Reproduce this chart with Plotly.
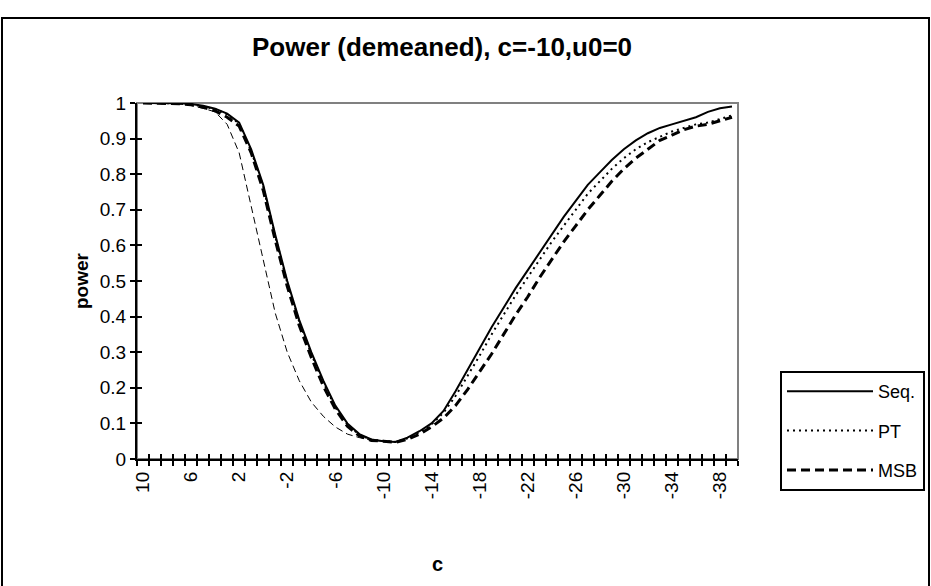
import plotly.graph_objects as go

# ---- data ----
c_vals = list(range(10, -40, -1))  # 10 .. -39 (50 categories)

seq = [1.0, 1.0, 1.0, 0.999, 0.997, 0.992, 0.984, 0.97, 0.945, 0.87,
       0.77, 0.63, 0.50, 0.39, 0.30, 0.22, 0.15, 0.10, 0.07, 0.055,
       0.05, 0.048, 0.06, 0.078, 0.10, 0.135, 0.19, 0.25, 0.31, 0.37,
       0.425, 0.48, 0.53, 0.58, 0.63, 0.68, 0.725, 0.77, 0.805, 0.84,
       0.87, 0.895, 0.915, 0.93, 0.94, 0.95, 0.96, 0.975, 0.985, 0.99]

pt = [1.0, 1.0, 1.0, 0.999, 0.997, 0.991, 0.983, 0.968, 0.942, 0.865,
      0.765, 0.625, 0.495, 0.385, 0.295, 0.215, 0.145, 0.097, 0.068, 0.054,
      0.05, 0.048, 0.058, 0.075, 0.097, 0.13, 0.177, 0.232, 0.29, 0.35,
      0.405, 0.46, 0.51, 0.56, 0.61, 0.655, 0.70, 0.745, 0.78, 0.815,
      0.845, 0.87, 0.89, 0.905, 0.92, 0.93, 0.94, 0.945, 0.955, 0.965]

msb = [1.0, 1.0, 0.999, 0.998, 0.995, 0.988, 0.978, 0.96, 0.935, 0.86,
       0.755, 0.615, 0.485, 0.375, 0.285, 0.205, 0.14, 0.092, 0.065, 0.052,
       0.05, 0.047, 0.055, 0.07, 0.09, 0.115, 0.15, 0.195, 0.245, 0.295,
       0.35, 0.405, 0.455, 0.51, 0.56, 0.61, 0.655, 0.70, 0.74, 0.78,
       0.815, 0.845, 0.87, 0.895, 0.91, 0.925, 0.935, 0.94, 0.95, 0.96]

# unlabeled thin dashed series (left part only)
c_thin = list(range(10, -11, -1))
thin = [1.0, 1.0, 0.999, 0.997, 0.993, 0.985, 0.975, 0.94, 0.86, 0.71,
        0.56, 0.41, 0.30, 0.22, 0.16, 0.12, 0.09, 0.07, 0.06, 0.053, 0.05]

y_ticks = [0, 0.1, 0.2, 0.3, 0.4, 0.5, 0.6, 0.7, 0.8, 0.9, 1]
y_ticktext = ["0", "0.1", "0.2", "0.3", "0.4", "0.5", "0.6", "0.7", "0.8", "0.9", "1"]
x_label_vals = list(range(10, -39, -4))
x_label_text = [str(v) for v in x_label_vals]
x_tick_pos = [v + 0.5 for v in range(10, -41, -1)]

# ---- layout geometry (pixels) ----
W, H = 931, 586
L, R, T, B = 137, 738, 103, 459
pw, ph = R - L, B - T


def px(x):
    return (x - L) / pw


def py(y):
    return (B - y) / ph


FONT = "Liberation Sans, Arial, sans-serif"

fig = go.Figure()
fig.add_trace(go.Scatter(x=c_thin, y=thin, mode="lines", showlegend=False,
                         line=dict(color="black", width=1, dash="7px,4px")))
fig.add_trace(go.Scatter(x=c_vals, y=msb, mode="lines", name="MSB", legendrank=3,
                         legendgroup="c", line=dict(color="black", width=3, dash="9px,5px")))
fig.add_trace(go.Scatter(x=c_vals, y=pt, mode="lines", name="PT", legendrank=2,
                         legendgroup="b", line=dict(color="black", width=2, dash="2px,4px")))
fig.add_trace(go.Scatter(x=c_vals, y=seq, mode="lines", name="Seq.", legendrank=1,
                         legendgroup="a", line=dict(color="black", width=2)))

xr = [10.5, -39.5]
fig.update_layout(
    width=W, height=H,
    margin=dict(l=L, r=W - R, t=T, b=H - B, pad=0, autoexpand=False),
    paper_bgcolor="white", plot_bgcolor="white",
    font=dict(family=FONT, size=18, color="black"),
    showlegend=True,
    legend=dict(x=px(780), y=py(371), xanchor="left", yanchor="top",
                bordercolor="black", borderwidth=2, bgcolor="white",
                font=dict(family=FONT, size=18), tracegroupgap=13,
                itemwidth=86, traceorder="grouped"),
    xaxis=dict(range=xr, tickmode="array", tickvals=x_tick_pos, showticklabels=False,
               ticks="outside", ticklen=5, tickwidth=2, tickcolor="black",
               showline=True, linecolor="black", linewidth=2, showgrid=False, zeroline=False),
    xaxis2=dict(range=xr, overlaying="x", side="bottom", tickmode="array", tickvals=x_tick_pos,
                showticklabels=False, ticks="inside", ticklen=5, tickwidth=2, tickcolor="black",
                showline=False, showgrid=False, zeroline=False),
    xaxis3=dict(range=xr, overlaying="x", side="bottom", tickmode="array",
                tickvals=x_label_vals, ticktext=x_label_text, tickangle=-90,
                ticks="", showline=False, showgrid=False, zeroline=False,
                tickfont=dict(family=FONT, size=19), ticklabelstandoff=8,
                title=dict(text="<b>c</b>", font=dict(family=FONT, size=20), standoff=58)),
    yaxis=dict(range=[0, 1], tickmode="array", tickvals=y_ticks, ticktext=y_ticktext,
               ticks="outside", ticklen=5, tickwidth=2, tickcolor="black",
               showline=True, linecolor="black", linewidth=2, showgrid=False, zeroline=False,
               tickfont=dict(family=FONT, size=19),
               title=dict(text="<b>power</b>", font=dict(family=FONT, size=19), standoff=6)),
    yaxis2=dict(range=[0, 1], overlaying="y", side="left", tickmode="array", tickvals=y_ticks,
                showticklabels=False, ticks="inside", ticklen=5, tickwidth=2, tickcolor="black",
                showline=False, showgrid=False, zeroline=False),
    annotations=[dict(text="<b>Power (demeaned), c=-10,u0=0</b>", xref="paper", yref="paper",
                      x=px(442), y=py(47), xanchor="center", yanchor="middle", showarrow=False,
                      font=dict(family=FONT, size=26, color="black"))],
    shapes=[
        dict(type="rect", xref="paper", yref="paper", x0=0, x1=1, y0=0, y1=1,
             line=dict(color="#808080", width=2), layer="below"),
        dict(type="rect", xref="paper", yref="paper", x0=px(2), x1=px(929), y0=py(600), y1=py(18),
             line=dict(color="black", width=2), layer="below"),
    ],
)

# dummy invisible traces to activate overlay axes
fig.add_trace(go.Scatter(x=[0], y=[0], xaxis="x2", yaxis="y2", mode="markers",
                         marker=dict(opacity=0), showlegend=False, hoverinfo="skip"))
fig.add_trace(go.Scatter(x=[0], y=[0], xaxis="x3", yaxis="y", mode="markers",
                         marker=dict(opacity=0), showlegend=False, hoverinfo="skip"))

fig.write_html("out.html")
